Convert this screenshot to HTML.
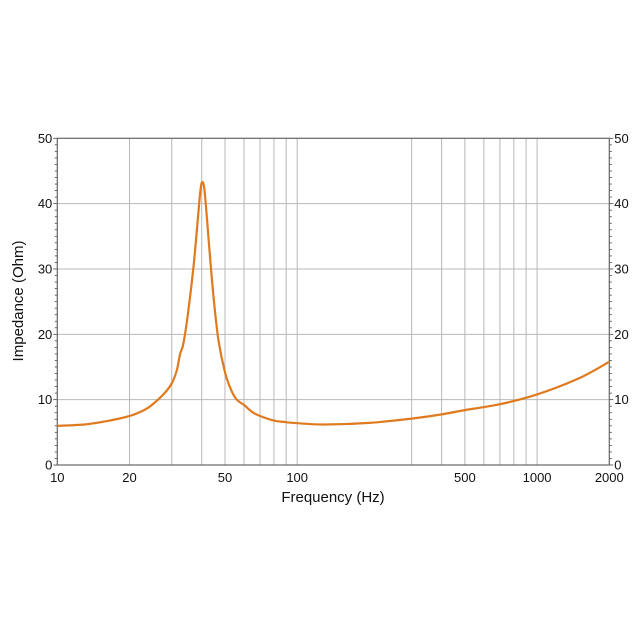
<!DOCTYPE html>
<html><head><meta charset="utf-8"><style>
html,body{margin:0;padding:0;background:#fff;width:640px;height:640px;overflow:hidden}
text{font-family:"Liberation Sans",Arial,sans-serif;fill:#111}
</style></head><body>
<svg id="s" width="640" height="640" xmlns="http://www.w3.org/2000/svg"></svg>
<script>
const s=document.getElementById('s');
const L=57.3,R=609.3,T=138.3,B=465;
const X=f=>L+(Math.log10(f)-1)/Math.log10(200)*(R-L);
const Y=z=>B-z/50*(B-T);
let h='';
[20,30,40,50,60,70,80,90,100,300,400,500,600,700,800,900,1000].forEach(f=>{h+=`<line x1="${X(f)}" x2="${X(f)}" y1="${T}" y2="${B}" stroke="#b8b8b8" stroke-width="1"/>`});
[10,20,30,40].forEach(z=>{h+=`<line x1="${L}" x2="${R}" y1="${Y(z)}" y2="${Y(z)}" stroke="#b8b8b8" stroke-width="1"/>`});
for(let z=0;z<=50;z++){const l=z%10==0?4:2.5;h+=`<line x1="${L-l}" x2="${L}" y1="${Y(z)}" y2="${Y(z)}" stroke="#444" stroke-width="0.8"/><line x1="${R}" x2="${R+l}" y1="${Y(z)}" y2="${Y(z)}" stroke="#444" stroke-width="0.8"/>`}
h+=`<rect x="${L}" y="${T}" width="${R-L}" height="${B-T}" fill="none" stroke="#666" stroke-width="1.2"/>`;
[0,10,20,30,40,50].forEach(z=>{h+=`<text x="${L-5}" y="${Y(z)+4.5}" font-size="13" text-anchor="end">${z}</text><text x="${R+5}" y="${Y(z)+4.5}" font-size="13">${z}</text>`});
[10,20,50,100,500,1000,2000].forEach(f=>{h+=`<text x="${X(f)}" y="482" font-size="13" text-anchor="middle">${f}</text>`});
h+=`<text x="333" y="502" font-size="15" text-anchor="middle">Frequency (Hz)</text>`;
h+=`<text transform="translate(23,301) rotate(-90)" font-size="15" text-anchor="middle">Impedance (Ohm)</text>`;
const d=[[10,6.0],[13,6.2],[16,6.7],[20,7.5],[23,8.4],[25,9.3],[28,11],[30,12.5],[31.5,14.5],[32.5,17],[33.5,18.5],[35,23],[37,30.5],[38.5,37.5],[39.5,42],[40.2,43.3],[41,42.3],[42,38],[43.5,31],[45,25],[47,19],[50,14.2],[53,11.5],[56,10],[60,9.2],[65,8.1],[70,7.5],[80,6.8],[90,6.55],[100,6.4],[130,6.2],[200,6.45],[300,7.1],[400,7.75],[500,8.4],[700,9.3],[1000,10.8],[1500,13.3],[2000,15.8]];
const P=d.map(([f,z])=>[X(f),Y(z)]);
let p=`M${P[0][0]},${P[0][1]}`;
for(let i=0;i<P.length-1;i++){const p0=P[i-1]||P[i],p1=P[i],p2=P[i+1],p3=P[i+2]||P[i+1];
p+=`C${p1[0]+(p2[0]-p0[0])/6},${p1[1]+(p2[1]-p0[1])/6} ${p2[0]-(p3[0]-p1[0])/6},${p2[1]-(p3[1]-p1[1])/6} ${p2[0]},${p2[1]}`}
h+=`<path d="${p}" fill="none" stroke="#e07a1f" stroke-width="2.2" stroke-linejoin="round"/>`;
s.innerHTML=h;
</script>
</body></html>
